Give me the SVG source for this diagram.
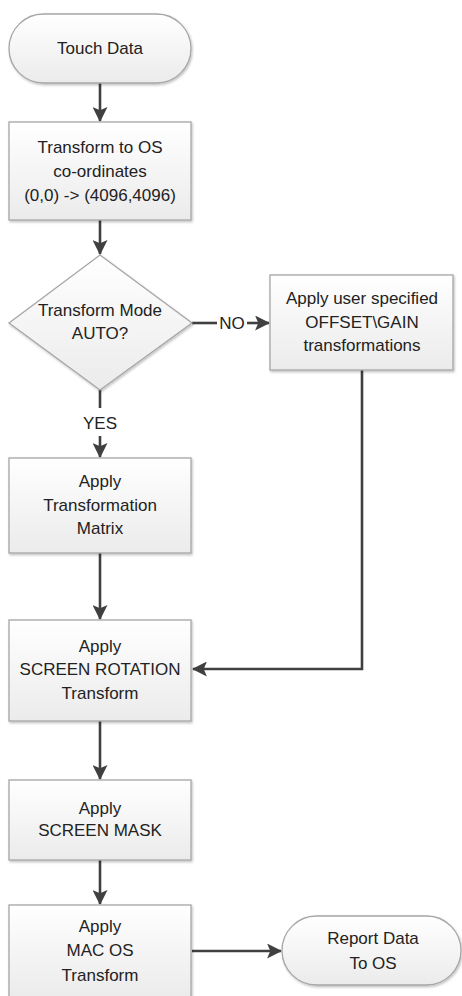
<svg xmlns="http://www.w3.org/2000/svg" width="462" height="996" viewBox="0 0 462 996">
<defs>
<linearGradient id="g" x1="0" y1="0" x2="0" y2="1">
<stop offset="0" stop-color="#ffffff"/>
<stop offset="1" stop-color="#ebebeb"/>
</linearGradient>
<filter id="sh" x="-10%" y="-10%" width="120%" height="130%">
<feDropShadow dx="1" dy="1.5" stdDeviation="1" flood-color="#000" flood-opacity="0.25"/>
</filter>
<marker id="ah" viewBox="0 0 14 14" refX="13" refY="7" markerWidth="15" markerHeight="15" markerUnits="userSpaceOnUse" orient="auto">
<path d="M0,0 L14,7 L0,14 L3,7 Z" fill="#404040"/>
</marker>
<style>
.n{fill:url(#g);stroke:#a6a6a6;stroke-width:1.3;filter:url(#sh)}
.t{font-family:"Liberation Sans",Arial,sans-serif;font-size:17px;fill:#222222;text-anchor:middle;dominant-baseline:central}
.c{fill:none;stroke:#404040;stroke-width:2.6}
.a{marker-end:url(#ah)}
</style>
</defs>
<rect width="462" height="996" fill="#ffffff"/>
<g id="connectors">
<line class="c a" x1="100" y1="83" x2="100" y2="121"/>
<line class="c a" x1="100" y1="220" x2="100" y2="254"/>
<line class="c" x1="192" y1="323" x2="217" y2="323"/>
<line class="c a" x1="247" y1="323" x2="269" y2="323"/>
<text class="t" x="232" y="323">NO</text>
<line class="c" x1="100" y1="390" x2="100" y2="408"/>
<text class="t" x="100" y="423">YES</text>
<line class="c a" x1="100" y1="436" x2="100" y2="457"/>
<line class="c a" x1="100" y1="553" x2="100" y2="619"/>
<polyline class="c a" points="362,370 362,669 193,669"/>
<line class="c a" x1="100" y1="721" x2="100" y2="779"/>
<line class="c a" x1="100" y1="860" x2="100" y2="904"/>
<line class="c a" x1="192" y1="951" x2="281" y2="951"/>
</g>
<g id="touch-data">
<rect class="n" x="9" y="14" width="182" height="69" rx="34.5"/>
<text class="t" x="100" y="48">Touch Data</text>
</g>
<g id="transform-os">
<rect class="n" x="9" y="122" width="182" height="98"/>
<text class="t" x="100" y="147">Transform to OS</text>
<text class="t" x="100" y="171">co-ordinates</text>
<text class="t" x="100" y="195">(0,0) -&gt; (4096,4096)</text>
</g>
<g id="mode-decision">
<polygon class="n" points="100,255 192,323 100,390 9,323"/>
<text class="t" x="100" y="310">Transform Mode</text>
<text class="t" x="100" y="333">AUTO?</text>
</g>
<g id="user-offset">
<rect class="n" x="270" y="275" width="183" height="95"/>
<text class="t" x="362" y="298">Apply user specified</text>
<text class="t" x="362" y="322">OFFSET\GAIN</text>
<text class="t" x="362" y="345">transformations</text>
</g>
<g id="transformation-matrix">
<rect class="n" x="9" y="458" width="182" height="95"/>
<text class="t" x="100" y="481">Apply</text>
<text class="t" x="100" y="505">Transformation</text>
<text class="t" x="100" y="528">Matrix</text>
</g>
<g id="screen-rotation">
<rect class="n" x="9" y="620" width="182" height="101"/>
<text class="t" x="100" y="646">Apply</text>
<text class="t" x="100" y="669">SCREEN ROTATION</text>
<text class="t" x="100" y="693">Transform</text>
</g>
<g id="screen-mask">
<rect class="n" x="9" y="780" width="182" height="80"/>
<text class="t" x="100" y="808">Apply</text>
<text class="t" x="100" y="830">SCREEN MASK</text>
</g>
<g id="mac-os">
<rect class="n" x="9" y="905" width="182" height="92"/>
<text class="t" x="100" y="926">Apply</text>
<text class="t" x="100" y="950">MAC OS</text>
<text class="t" x="100" y="975">Transform</text>
</g>
<g id="report-data">
<rect class="n" x="282" y="916" width="179" height="69" rx="34.5"/>
<text class="t" x="373" y="938">Report Data</text>
<text class="t" x="373" y="963">To OS</text>
</g>
</svg>
